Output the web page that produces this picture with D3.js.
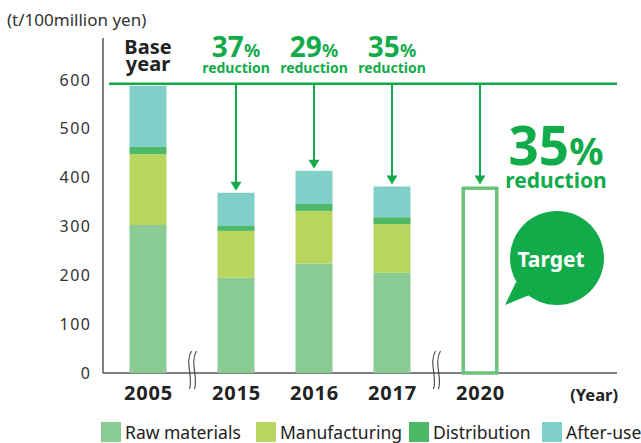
<!DOCTYPE html>
<html>
<head>
<meta charset="utf-8">
<script src="https://cdn.jsdelivr.net/npm/d3@7"></script>
<style>
  html, body { margin: 0; padding: 0; background: #fff; }
  svg { display: block; font-family: "Noto Sans", "Open Sans", sans-serif; }
</style>
</head>
<body>
<svg id="chart" width="641" height="443"></svg>
<script>
// Environmental load per 100 million yen of sales, by life-cycle stage
const years = ["2005", "2015", "2016", "2017", "2020"];
const rawMaterials  = [303, 195, 224, 205, null];
const manufacturing = [145,  96, 108, 100, null];
const distribution  = [ 15,  10,  14,  14, null];
const afterUse      = [125,  68,  68,  63, null];
const targetValue   = 382;            // 2020 target
const baseValue     = 588;            // 2005 base year total
const reductions    = [null, "37", "29", "35"];
const stages = ["Raw materials", "Manufacturing", "Distribution", "After-use"];
const stageColors = ["#8aca93", "#b8d65f", "#4cb966", "#80cfc8"];
const yTicks = [0, 100, 200, 300, 400, 500, 600];
const breaksBefore = [0, 1, 1, 1, 2];  // axis breaks preceding each year

const green = "#12ab4a";
const svg = d3.select("#chart");

const y = d3.scaleLinear().domain([0, 600]).range([373, 80]);
// year slots with a little extra room at each axis break
const slot = d3.scaleLinear().domain([0, 1]).range([148, 226]);
const xPos = i => slot(i + breaksBefore[i] * 10 / 78);
const barW = 37;

// axes
svg.append("line").attr("x1", 103).attr("x2", 103).attr("y1", 38).attr("y2", y(0))
  .attr("stroke", "#555").attr("stroke-width", 1.5);
svg.append("line").attr("x1", 103).attr("x2", 617).attr("y1", y(0)).attr("y2", y(0))
  .attr("stroke", "#555").attr("stroke-width", 1.5);

const yAxis = d3.axisLeft(y).tickValues(yTicks).tickSize(0).tickPadding(0);
const yg = svg.append("g").attr("transform", "translate(91.5,0)").call(yAxis);
yg.select(".domain").remove();
yg.selectAll("text").attr("font-size", 16).attr("fill", "#333")
  .attr("font-family", "Noto Sans, sans-serif").attr("letter-spacing", 1.5);

svg.append("text").attr("x", 7).attr("y", 26).attr("font-size", 17).attr("fill", "#333")
  .text("(t/100million yen)");

// stacked bars
const series = [rawMaterials, manufacturing, distribution, afterUse];
const rows = years.map((yr, i) => {
  const r = { year: yr, i };
  stages.forEach((s, k) => r[s] = series[k][i] || 0);
  return r;
});
const stacked = d3.stack().keys(stages)(rows.slice(0, 4));
stacked.forEach((layer, k) => {
  svg.append("g").selectAll("rect").data(layer).join("rect")
    .attr("x", d => xPos(d.data.i) - barW / 2)
    .attr("width", barW)
    .attr("y", d => y(d[1]))
    .attr("height", d => y(d[0]) - y(d[1]))
    .attr("fill", stageColors[k]);
});

// 2020 target outline
svg.append("rect")
  .attr("x", xPos(4) - barW / 2 + 1.75).attr("width", barW - 3.5)
  .attr("y", y(targetValue) + 1.75).attr("height", y(0) - y(targetValue) - 1.75)
  .attr("fill", "none").attr("stroke", "#6cc27a").attr("stroke-width", 3.5);

// base-year reference line and arrows
svg.append("line").attr("x1", 109).attr("x2", 617)
  .attr("y1", y(baseValue) - 2).attr("y2", y(baseValue) - 2)
  .attr("stroke", green).attr("stroke-width", 2.5);

const totals = rows.map((r, i) => i < 4 ? d3.sum(series, s => s[i]) : targetValue);
for (let i = 1; i < 5; i++) {
  const cx = xPos(i), top = y(baseValue) - 2, tip = y(totals[i]) - 2;
  svg.append("line").attr("x1", cx).attr("x2", cx).attr("y1", top).attr("y2", tip - 8)
    .attr("stroke", green).attr("stroke-width", 2);
  svg.append("path")
    .attr("d", `M${cx - 5.5},${tip - 9}L${cx + 5.5},${tip - 9}L${cx},${tip}Z`)
    .attr("fill", green);
}

// annotation text above bars
const base = svg.append("text").attr("text-anchor", "middle").attr("font-weight", "bold")
  .attr("font-size", 20).attr("fill", "#222");
base.append("tspan").attr("x", xPos(0)).attr("y", 54).text("Base");
base.append("tspan").attr("x", xPos(0)).attr("y", 71).text("year");

for (let i = 1; i < 4; i++) {
  const t = svg.append("text").attr("x", xPos(i)).attr("y", 57).attr("text-anchor", "middle")
    .attr("font-weight", "bold").attr("fill", green);
  t.append("tspan").attr("font-size", 28).text(reductions[i]);
  t.append("tspan").attr("font-size", 18).text("%");
  svg.append("text").attr("x", xPos(i)).attr("y", 73).attr("text-anchor", "middle")
    .attr("font-weight", "bold").attr("font-size", 14).attr("fill", green).text("reduction");
}

// large target reduction label
const big = svg.append("text").attr("x", 556).attr("y", 165).attr("text-anchor", "middle")
  .attr("font-weight", "bold").attr("fill", green);
big.append("tspan").attr("font-size", 53).text("35");
big.append("tspan").attr("font-size", 38).text("%");
svg.append("text").attr("x", 556).attr("y", 188).attr("text-anchor", "middle")
  .attr("font-weight", "bold").attr("font-size", 21).attr("fill", green).text("reduction");

// speech bubble
svg.append("circle").attr("cx", 557).attr("cy", 258).attr("r", 47).attr("fill", green);
svg.append("path").attr("d", "M516,282L505,305L532,294Z").attr("fill", green);
svg.append("text").attr("x", 551).attr("y", 267).attr("text-anchor", "middle")
  .attr("font-weight", "bold").attr("font-size", 21).attr("fill", "#fff").text("Target");

// axis break marks
[0.5, 3.5].forEach(p => {
  const i0 = Math.floor(p);
  const bx = (xPos(i0) + xPos(i0 + 1)) / 2;
  [-2.5, 2.5].forEach(dx => {
    const x0 = bx + dx;
    svg.append("path")
      .attr("d", `M${x0 + 2},351 C${x0 - 5},362 ${x0 + 4},378 ${x0},389`)
      .attr("fill", "none").attr("stroke", "#444").attr("stroke-width", 1.1);
  });
});

// x-axis year labels
svg.append("g").selectAll("text").data(years).join("text")
  .attr("x", (d, i) => xPos(i) + 0.4).attr("y", 400).attr("text-anchor", "middle")
  .attr("font-weight", "bold").attr("font-size", 20).attr("letter-spacing", 0.8)
  .attr("fill", "#222").text(d => d);
svg.append("text").attr("x", 618).attr("y", 401).attr("text-anchor", "end")
  .attr("font-weight", "bold").attr("font-size", 16.5).attr("fill", "#222").text("(Year)");

// legend
const legendX = [101, 256, 409, 542];
const lg = svg.append("g").selectAll("g").data(stages).join("g")
  .attr("transform", (d, i) => `translate(${legendX[i]},422)`);
lg.append("rect").attr("width", 20).attr("height", 20).attr("fill", (d, i) => stageColors[i]);
lg.append("text").attr("x", 24).attr("y", 16.5).attr("font-size", 17.5).attr("fill", "#222")
  .text(d => d);
</script>
</body>
</html>
